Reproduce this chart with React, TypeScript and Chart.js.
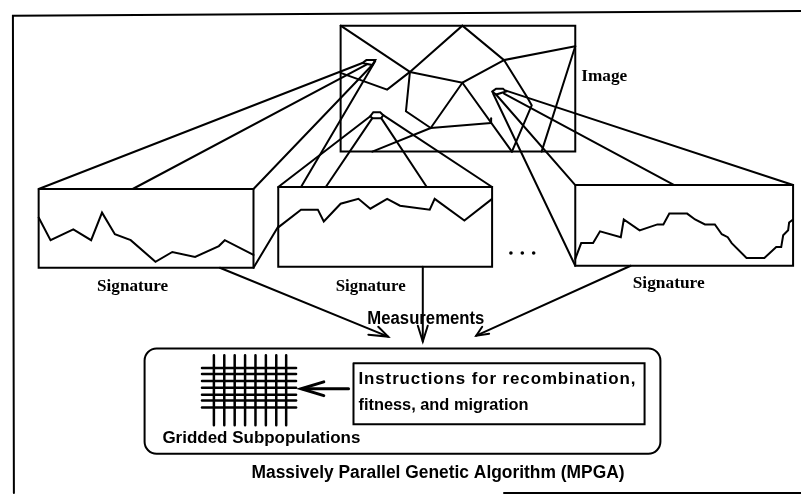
import React, { useEffect, useRef } from 'react';
import { Chart, registerables } from 'chart.js';

Chart.register(...registerables);

type P = [number, number];

const W = 805;
const H = 501;

// ---- Frame ----
const frameLeftTop: P[] = [[805, 7], [9, 12], [10, 497]];
const frameBottom: P[] = [[505, 497], [805, 497]];

// ---- Image panel ----
const imageRect: P[] = [[340, 22], [577, 22], [577, 150], [340, 150], [340, 22]];
const imageNet: P[][] = [
  [[340, 22], [410, 69]],
  [[340, 70], [387, 87], [410, 69]],
  [[410, 69], [463, 22], [505, 57], [577, 43]],
  [[410, 69], [463, 80], [505, 57]],
  [[410, 69], [406, 109], [431, 126], [463, 80]],
  [[431, 126], [492, 121]],
  [[492, 121], [492, 116]],
  [[372, 150], [431, 126]],
  [[463, 80], [513, 150]],
  [[505, 57], [528, 94], [533, 103], [513, 150]],
  [[577, 43], [543, 150]],
];

// ---- Sampling windows (apexes) and projection rays ----
const apex1: P[] = [[362, 60], [366, 57], [375, 57], [372, 62], [362, 60]];
const apex2: P[] = [[370, 114], [373, 110], [380, 110], [383, 113], [381, 116], [372, 116], [370, 114]];
const apex3: P[] = [[493, 89], [497, 86], [504, 86], [507, 89], [497, 92], [493, 89]];
const rays: P[][] = [
  [[362, 60], [35, 188]],
  [[367, 61], [130, 188]],
  [[372, 62], [252, 188]],
  [[375, 58], [300, 186]],
  [[277, 226], [252, 268]],
  [[370, 114], [277, 186]],
  [[372, 116], [325, 186]],
  [[381, 116], [427, 186]],
  [[383, 113], [493, 186]],
  [[507, 88], [797, 184]],
  [[505, 91], [677, 184]],
  [[497, 92], [577, 184]],
  [[494, 91], [577, 266]],
];

// ---- Signature boxes ----
const box1: P[] = [[35, 188], [252, 188], [252, 268], [35, 268], [35, 188]];
const box2: P[] = [[277, 186], [493, 186], [493, 267], [277, 267], [277, 186]];
const box3: P[] = [[577, 184], [797, 184], [797, 266], [577, 266], [577, 184]];

const signature1: P[] = [
  [35, 217], [47, 240], [70, 229], [88, 240], [99, 212], [112, 234], [128, 240],
  [153, 262], [170, 252], [193, 257], [217, 246], [223, 240], [252, 255],
];
const signature2: P[] = [
  [277, 227], [300, 209], [317, 209], [323, 221], [340, 203], [358, 198], [370, 208],
  [387, 198], [400, 205], [430, 209], [435, 198], [465, 220], [493, 198],
];
const signature3: P[] = [
  [577, 259], [583, 243], [595, 243], [602, 231], [623, 237], [626, 219], [642, 230],
  [660, 224], [666, 224], [672, 213], [690, 213], [698, 219], [708, 224], [718, 224],
  [725, 234], [731, 237], [735, 243], [750, 258], [768, 258], [780, 247], [785, 247],
  [787, 235], [792, 230], [793, 222], [797, 219],
];

const ellipsisDots: P[] = [[512, 253], [523.5, 253], [535, 253]];

// ---- Arrows ----
const arrowShafts: P[][] = [
  [[218, 268], [388, 338]],
  [[423, 267], [423, 343]],
  [[633, 266], [477, 337]],
];
const arrowHeads: P[][] = [
  [[368, 336], [388, 338], [378, 328]],
  [[418, 327], [423, 343], [428, 327]],
  [[483, 328], [477, 337], [490, 335]],
];
const innerArrow: P[] = [[348, 391], [302, 391]];
const innerArrowHead: P[] = [[323, 384], [300, 391], [323, 398]];

// ---- MPGA block ----
const mpgaBox = [142, 350, 663, 457]; // left, top, right, bottom
const mpgaRadius = 12;
const instructionBox: P[] = [[353, 365], [647, 365], [647, 427], [353, 427], [353, 365]];
const gridRowsY = [370, 376, 383, 390, 397, 403, 410];
const gridRowSpan = [200, 295];
const gridColsX = [212, 222.5, 233, 243.5, 254, 264.5, 275, 285];
const gridColSpan = [357, 428];

// ---- Labels ----
const SERIF = '"Liberation Serif", "Times New Roman", serif';
const SANS = '"Liberation Sans", Arial, sans-serif';
const labelTexts = [
  'Image', 'Signature', 'Signature', 'Signature', 'Measurements',
  'Instructions for recombination,', 'fitness, and migration',
  'Gridded Subpopulations', 'Massively Parallel Genetic Algorithm (MPGA)',
];
const labelX = [583, 94, 335, 635, 367, 358, 358, 160, 250];
const labelBaseline = [78, 292, 292, 289, 325, 386, 413, 446, 482];
const labelWidth = [46, 71, 70, 72, 117, 278, 170, 198, 373];
const labelSize = [17, 17, 17, 17, 18, 17, 17, 17, 18];
const labelSpacing = [0, 0, 0, 0, 0, 0.9, 0, 0, 0];
const labelFamily = [SERIF, SERIF, SERIF, SERIF, SANS, SANS, SANS, SANS, SANS];

const toXY = (pts: P[]) => pts.map(([x, y]) => ({ x, y }));

const lineDs = (pts: P[], width = 2) => ({
  data: toXY(pts),
  showLine: true,
  borderColor: '#000',
  borderWidth: width,
  pointRadius: 0,
  fill: false,
  tension: 0,
  borderJoinStyle: 'miter' as const,
  borderCapStyle: 'round' as const,
});

const diagramPlugin = {
  id: 'diagramPlugin',
  beforeDraw(chart: any) {
    const { ctx } = chart;
    ctx.save();
    ctx.fillStyle = '#fff';
    ctx.fillRect(0, 0, chart.width, chart.height);
    ctx.restore();
  },
  afterDatasetsDraw(chart: any) {
    const { ctx } = chart;
    const xs = chart.scales.x;
    const ys = chart.scales.y;
    ctx.save();
    ctx.strokeStyle = '#000';
    ctx.lineWidth = 2;
    const l = xs.getPixelForValue(mpgaBox[0]);
    const t = ys.getPixelForValue(mpgaBox[1]);
    const r = xs.getPixelForValue(mpgaBox[2]);
    const b = ys.getPixelForValue(mpgaBox[3]);
    ctx.beginPath();
    ctx.roundRect(l, t, r - l, b - t, mpgaRadius);
    ctx.stroke();

    ctx.fillStyle = '#000';
    ctx.textBaseline = 'alphabetic';
    ctx.textAlign = 'left';
    labelTexts.forEach((text, i) => {
      ctx.font = `bold ${labelSize[i]}px ${labelFamily[i]}`;
      (ctx as any).letterSpacing = `${labelSpacing[i]}px`;
      const m = ctx.measureText(text).width;
      const px = xs.getPixelForValue(labelX[i]);
      const py = ys.getPixelForValue(labelBaseline[i]);
      ctx.save();
      ctx.translate(px, py);
      ctx.scale(labelWidth[i] / m, 1);
      ctx.fillText(text, 0, 0);
      ctx.restore();
    });
    (ctx as any).letterSpacing = '0px';
    ctx.restore();
  },
};

export default function App() {
  const ref = useRef<HTMLCanvasElement>(null);

  useEffect(() => {
    if (!ref.current) return;
    const datasets: any[] = [];
    datasets.push(lineDs(frameLeftTop, 2));
    datasets.push(lineDs(frameBottom, 2));
    datasets.push(lineDs(imageRect, 2));
    imageNet.forEach((p) => datasets.push(lineDs(p, 2)));
    [apex1, apex2, apex3].forEach((p) => datasets.push(lineDs(p, 2)));
    rays.forEach((p) => datasets.push(lineDs(p, 2)));
    [box1, box2, box3].forEach((p) => datasets.push(lineDs(p, 2)));
    [signature1, signature2, signature3].forEach((p) => datasets.push(lineDs(p, 2)));
    arrowShafts.forEach((p) => datasets.push(lineDs(p, 2)));
    arrowHeads.forEach((p) => datasets.push(lineDs(p, 2)));
    datasets.push(lineDs(innerArrow, 3));
    datasets.push(lineDs(innerArrowHead, 3));
    datasets.push(lineDs(instructionBox, 2));
    gridRowsY.forEach((y) => datasets.push(lineDs([[gridRowSpan[0], y], [gridRowSpan[1], y]], 2.5)));
    gridColsX.forEach((x) => datasets.push(lineDs([[x, gridColSpan[0]], [x, gridColSpan[1]]], 2.5)));
    datasets.push({
      data: toXY(ellipsisDots),
      showLine: false,
      pointRadius: 1.8,
      pointBackgroundColor: '#000',
      pointBorderWidth: 0,
    });

    const chart = new Chart(ref.current, {
      type: 'scatter',
      data: { datasets },
      options: {
        responsive: false,
        animation: false,
        events: [],
        layout: { padding: 0 },
        scales: {
          x: { type: 'linear', min: 0, max: W, display: false },
          y: { type: 'linear', min: 0, max: H, reverse: true, display: false },
        },
        plugins: {
          legend: { display: false },
          tooltip: { enabled: false },
        },
      },
      plugins: [diagramPlugin],
    });
    return () => chart.destroy();
  }, []);

  return (
    <div style={{ position: 'fixed', left: 0, top: 0, width: W, height: H, background: '#fff' }}>
      <canvas ref={ref} width={W} height={H} style={{ width: W, height: H, display: 'block' }} />
    </div>
  );
}
